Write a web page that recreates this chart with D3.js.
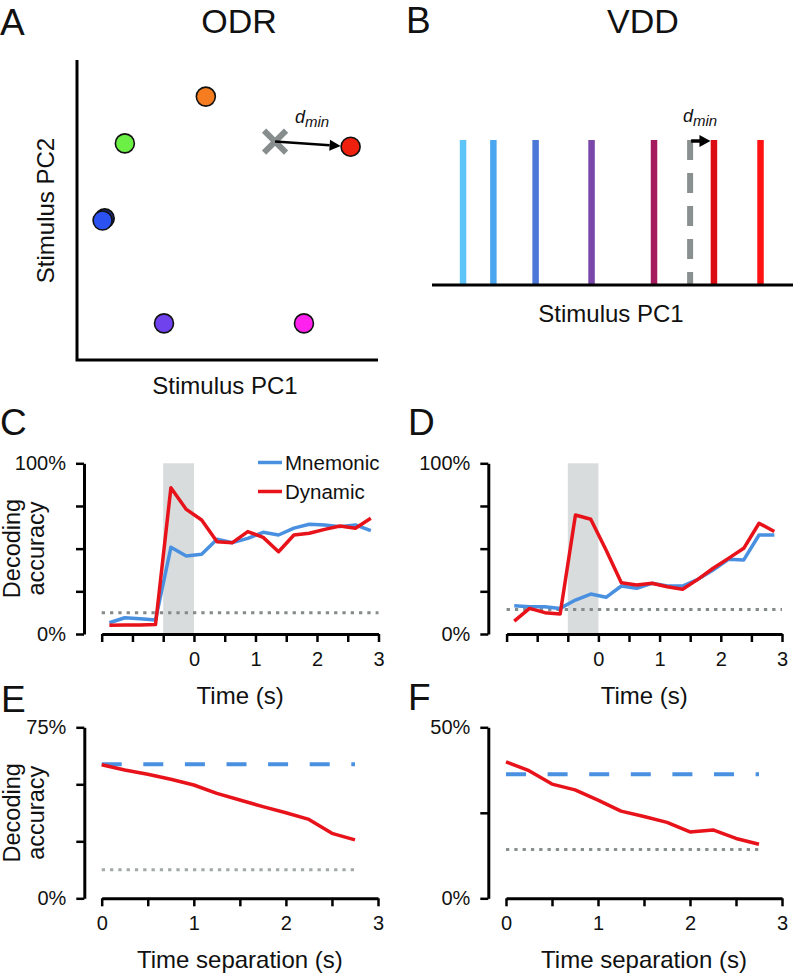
<!DOCTYPE html>
<html>
<head>
<meta charset="utf-8">
<script src="https://cdn.jsdelivr.net/npm/d3@7"></script>
<style>
  html, body { margin: 0; padding: 0; background: #fff; }
  svg { display: block; font-family: "Liberation Sans", Arial, Helvetica, sans-serif; }
</style>
</head>
<body>
<svg id="fig" width="796" height="975"></svg>
<script>
// ---------------- DATA ----------------
// Panel A (ODR): stimulus locations in PC space (arbitrary units 0..1)
const odrNames   = ["navy", "blue", "green", "orange", "red", "magenta", "purple"];
const odrPC1     = [0.092, 0.085, 0.159, 0.428, 0.909, 0.754, 0.289];
const odrPC2     = [0.472, 0.465, 0.722, 0.878, 0.711, 0.122, 0.122];
const odrColors  = ["#1b2a78", "#2b52f0", "#6cf046", "#f57d1f", "#f0200f", "#ff22ee", "#6f42ee"];
const odrDecoded = [0.658, 0.728];   // gray cross (PC1, PC2)

// Panel B (VDD): stimulus positions along PC1
const vddPC1     = [0.086, 0.170, 0.287, 0.442, 0.615, 0.781, 0.910];
const vddColors  = ["#5ec4f7", "#4aa6ee", "#4d76d9", "#7a48a8", "#a51b5e", "#dc0a12", "#ff1212"];
const vddDecoded = 0.715;

// Panels C, D: decoding accuracy over time (%)
const timePoints   = [-1.375, -1.125, -0.875, -0.625, -0.375, -0.125, 0.125, 0.375, 0.625, 0.875,
                      1.125, 1.375, 1.625, 1.875, 2.125, 2.375, 2.625, 2.875];
const odrMnemonic  = [6.6, 9.5, 8.9, 8.2, 50.8, 45.7, 46.7, 55.5, 53.5, 56.0, 59.6, 58.0, 62.0, 64.3, 63.9, 62.9, 63.9, 60.5];
const odrDynamic   = [5.1, 5.3, 5.3, 5.5, 85.7, 73.0, 66.8, 54.0, 53.5, 60.0, 56.6, 48.2, 58.0, 59.0, 61.3, 63.3, 62.0, 67.8];
const vddMnemonic  = [16.6, 16.0, 16.0, 15.0, 19.9, 23.4, 21.5, 28.1, 26.8, 29.7, 28.1, 28.1, 32.0, 37.5, 43.8, 43.4, 58.0, 58.0];
const vddDynamic   = [7.6, 15.0, 12.5, 11.7, 69.7, 67.2, 49.2, 30.0, 28.7, 29.7, 27.7, 26.2, 32.0, 38.5, 44.3, 50.2, 64.9, 60.0];
const stimWindow   = [-0.5, 0];
const odrChance    = 12.5;
const vddChance    = 14.3;

// Panels E, F: cross-temporal decoding vs time separation (%)
const separations  = [0, 0.25, 0.5, 0.75, 1.0, 1.25, 1.5, 1.75, 2.0, 2.25, 2.5, 2.75];
const odrCross     = [58.6, 56.3, 54.4, 52.2, 49.7, 46.0, 43.1, 40.2, 37.5, 34.6, 28.5, 25.6];
const vddCross     = [39.9, 37.3, 33.4, 31.7, 28.7, 25.5, 23.9, 22.2, 19.4, 20.0, 17.5, 15.8];
const odrMnemonicLevel = 58.8;
const vddMnemonicLevel = 36.3;

const timeTicks = [-1.5, -1, -0.5, 0, 0.5, 1, 1.5, 2, 2.5, 3];
const sepTicks  = [0, 0.5, 1, 1.5, 2, 2.5, 3];
const seriesNames = ["Mnemonic", "Dynamic"];

// ---------------- STYLE ----------------
const BLUE = "#4a90e0", RED = "#e8121a", GRAY_BAND = "#d8dcdc";
const FONT_TICK = 20, FONT_LABEL = 24;

const svg = d3.select("#fig");

function text(x, y, s, size, opts = {}) {
  const t = svg.append("text").attr("x", x).attr("y", y).attr("font-size", size)
    .attr("text-anchor", opts.anchor || "start").attr("fill", "#111").text(s);
  if (opts.rotate) t.attr("transform", `rotate(${opts.rotate},${x},${y})`);
  if (opts.style) t.attr("font-style", opts.style);
  return t;
}

function styleAxis(g) {
  g.select(".domain").attr("stroke", "#000").attr("stroke-width", 3);
  g.selectAll(".tick line").attr("stroke", "#000").attr("stroke-width", 2.5);
  g.selectAll(".tick text").attr("font-size", FONT_TICK).attr("fill", "#111")
    .attr("font-family", "Liberation Sans, Arial, sans-serif");
}

function yAxis(y, x0, ticks, labels) {
  const g = svg.append("g").attr("transform", `translate(${x0},0)`)
    .call(d3.axisLeft(y).tickValues(ticks).tickSize(8).tickSizeOuter(0).tickPadding(10)
      .tickFormat(d => labels[d] || ""));
  styleAxis(g);
}
function xAxis(x, y0, ticks, pad) {
  const g = svg.append("g").attr("transform", `translate(0,${y0})`)
    .call(d3.axisBottom(x).tickValues(ticks).tickSize(8).tickSizeOuter(0).tickPadding(pad)
      .tickFormat(d => (Number.isInteger(d) && d >= 0) ? String(d) : ""));
  styleAxis(g);
}

function panelLetter(s, x, y) { text(x, y, s, 37); }

// ---------------- PANEL A ----------------
panelLetter("A", 0, 35);
text(239, 33, "ODR", 34, { anchor: "middle" });
{
  const x = d3.scaleLinear().domain([0, 1]).range([77, 378]);
  const y = d3.scaleLinear().domain([0, 1]).range([360, 60]);
  svg.append("path").attr("d", `M${x(0)},${y(1)}V${y(0)}H${x(1)}`)
    .attr("fill", "none").attr("stroke", "#000").attr("stroke-width", 3);

  // cross (decoded)
  const cx = x(odrDecoded[0]), cy = y(odrDecoded[1]), a = 11;
  svg.append("path").attr("d", `M${cx - a},${cy - a}L${cx + a},${cy + a}M${cx - a},${cy + a}L${cx + a},${cy - a}`)
    .attr("stroke", "#878c8c").attr("stroke-width", 6);

  svg.selectAll("circle.odr").data(odrNames).enter().append("circle")
    .attr("cx", (d, i) => x(odrPC1[i])).attr("cy", (d, i) => y(odrPC2[i])).attr("r", 9.5)
    .attr("fill", (d, i) => odrColors[i]).attr("stroke", "#111").attr("stroke-width", 1.6);

  // arrow to nearest (red)
  const ri = odrNames.indexOf("red");
  const tx = x(odrPC1[ri]), ty = y(odrPC2[ri]);
  const ang = Math.atan2(ty - cy, tx - cx);
  const tipX = tx - 10 * Math.cos(ang), tipY = ty - 10 * Math.sin(ang);
  const L = 11, W = 5.5;
  const bx = tipX - L * Math.cos(ang), by = tipY - L * Math.sin(ang);
  svg.append("line").attr("x1", cx).attr("y1", cy).attr("x2", bx).attr("y2", by)
    .attr("stroke", "#000").attr("stroke-width", 2.5);
  svg.append("path").attr("d", `M${tipX},${tipY}L${bx - W * Math.sin(ang)},${by + W * Math.cos(ang)}L${bx + W * Math.sin(ang)},${by - W * Math.cos(ang)}Z`)
    .attr("fill", "#000");
  const dm = text(295, 123, "d", 18, { style: "italic" });
  dm.append("tspan").attr("font-size", 15).attr("dy", 4).text("min");

  text(54, 210.5, "Stimulus PC2", FONT_LABEL, { anchor: "middle", rotate: -90 });
  text(225, 394, "Stimulus PC1", FONT_LABEL, { anchor: "middle" });
}

// ---------------- PANEL B ----------------
panelLetter("B", 406, 33);
text(643, 33, "VDD", 34, { anchor: "middle" });
{
  const x = d3.scaleLinear().domain([0, 1]).range([432, 793]);
  const y = d3.scaleLinear().domain([0, 1]).range([285, 140]);
  svg.selectAll("line.vdd").data(vddPC1).enter().append("line")
    .attr("x1", d => x(d)).attr("x2", d => x(d)).attr("y1", y(0)).attr("y2", y(1))
    .attr("stroke", (d, i) => vddColors[i]).attr("stroke-width", 6.5);
  svg.append("line").attr("x1", x(vddDecoded)).attr("x2", x(vddDecoded)).attr("y1", y(1)).attr("y2", y(0))
    .attr("stroke", "#8a8f8f").attr("stroke-width", 6).attr("stroke-dasharray", "20,13");
  svg.append("line").attr("x1", 432).attr("x2", 793).attr("y1", y(0)).attr("y2", y(0))
    .attr("stroke", "#000").attr("stroke-width", 3);
  // arrow
  const ax0 = x(vddDecoded) + 1, ax1 = x(vddPC1[5]) - 3.5, ay = y(1) + 1;
  svg.append("line").attr("x1", ax0).attr("x2", ax1 - 9).attr("y1", ay).attr("y2", ay)
    .attr("stroke", "#000").attr("stroke-width", 3.5);
  svg.append("path").attr("d", `M${ax1},${ay}L${ax1 - 11},${ay - 6}L${ax1 - 11},${ay + 6}Z`).attr("fill", "#000");
  const dm = text(683, 121.5, "d", 18, { style: "italic" });
  dm.append("tspan").attr("font-size", 15).attr("dy", 4).text("min");
  text(611, 321.5, "Stimulus PC1", FONT_LABEL, { anchor: "middle" });
}

// ---------------- time-course panels (C, D) ----------------
function timePanel(opt) {
  const x = d3.scaleLinear().domain([-1.5, 3]).range(opt.xr);
  const y = d3.scaleLinear().domain([0, 100]).range([634, 463.3]);
  svg.append("rect").attr("x", x(stimWindow[0])).attr("y", y(100))
    .attr("width", x(stimWindow[1]) - x(stimWindow[0])).attr("height", y(0) - y(100))
    .attr("fill", GRAY_BAND);
  svg.append("line").attr("x1", x(-1.5)).attr("x2", x(3)).attr("y1", y(opt.chance)).attr("y2", y(opt.chance))
    .attr("stroke", "#858a8a").attr("stroke-width", 3).attr("stroke-dasharray", "3.3,5");
  const line = d3.line().x((d, i) => x(timePoints[i])).y(d => y(d));
  svg.append("path").datum(opt.mnem).attr("d", line).attr("fill", "none")
    .attr("stroke", BLUE).attr("stroke-width", 3.5).attr("stroke-linejoin", "round");
  svg.append("path").datum(opt.dyn).attr("d", line).attr("fill", "none")
    .attr("stroke", RED).attr("stroke-width", 3.5).attr("stroke-linejoin", "round");
  yAxis(y, opt.yx, [0, 25, 50, 75, 100], { 0: "0%", 100: "100%" });
  xAxis(x, 634, timeTicks, 10);
  text((x(-1.5) + x(3)) / 2, 704, "Time (s)", FONT_LABEL, { anchor: "middle" });
  return { x, y };
}

panelLetter("C", 0, 435);
timePanel({ xr: [101.7, 378.5], yx: 84, mnem: odrMnemonic, dyn: odrDynamic, chance: odrChance });
text(20, 548.5, "Decoding", 23.5, { anchor: "middle", rotate: -90 });
text(44, 548.5, "accuracy", 23.5, { anchor: "middle", rotate: -90 });
// legend
[[BLUE, 462.5, 469.5], [RED, 491.5, 498.5]].forEach((l, i) => {
  svg.append("line").attr("x1", 258).attr("x2", 282).attr("y1", l[1]).attr("y2", l[1])
    .attr("stroke", l[0]).attr("stroke-width", 3.5);
  text(285, l[2], seriesNames[i], 20.5);
});

panelLetter("D", 408, 435);
timePanel({ xr: [506.6, 782], yx: 488.3, mnem: vddMnemonic, dyn: vddDynamic, chance: vddChance });

// ---------------- cross-temporal panels (E, F) ----------------
function sepPanel(opt) {
  const x = d3.scaleLinear().domain([0, 3]).range(opt.xr);
  const y = d3.scaleLinear().domain([0, opt.ymax]).range([898.3, 727.3]);
  const last = separations[separations.length - 1];
  svg.append("line").attr("x1", x(0)).attr("x2", x(last)).attr("y1", y(opt.chance)).attr("y2", y(opt.chance))
    .attr("stroke", opt.chanceColor).attr("stroke-width", 3).attr("stroke-dasharray", "3.3,5");
  svg.append("line").attr("x1", x(0)).attr("x2", x(last)).attr("y1", y(opt.level)).attr("y2", y(opt.level))
    .attr("stroke", BLUE).attr("stroke-width", 4).attr("stroke-dasharray", "20,21.6");
  const line = d3.line().x((d, i) => x(separations[i])).y(d => y(d));
  svg.append("path").datum(opt.cross).attr("d", line).attr("fill", "none")
    .attr("stroke", RED).attr("stroke-width", 3.5).attr("stroke-linejoin", "round");
  const labels = {}; labels[0] = "0%"; labels[opt.ymax] = opt.ymax + "%";
  yAxis(y, opt.yx, opt.yticks, labels);
  xAxis(x, 898.3, sepTicks, 9.5);
  text((x(0) + x(3)) / 2, 968, "Time separation (s)", FONT_LABEL, { anchor: "middle" });
}

panelLetter("E", 1, 712);
sepPanel({ xr: [101.7, 378], yx: 84.3, ymax: 75, yticks: [0, 25, 50, 75], cross: odrCross,
           level: odrMnemonicLevel, chance: odrChance, chanceColor: "#a3a8a8" });
text(20, 812.8, "Decoding", 23.5, { anchor: "middle", rotate: -90 });
text(44, 812.8, "accuracy", 23.5, { anchor: "middle", rotate: -90 });

panelLetter("F", 408, 710);
sepPanel({ xr: [506, 782], yx: 488.3, ymax: 50, yticks: [0, 25, 50], cross: vddCross,
           level: vddMnemonicLevel, chance: vddChance, chanceColor: "#8a8f8f" });
</script>
</body>
</html>
